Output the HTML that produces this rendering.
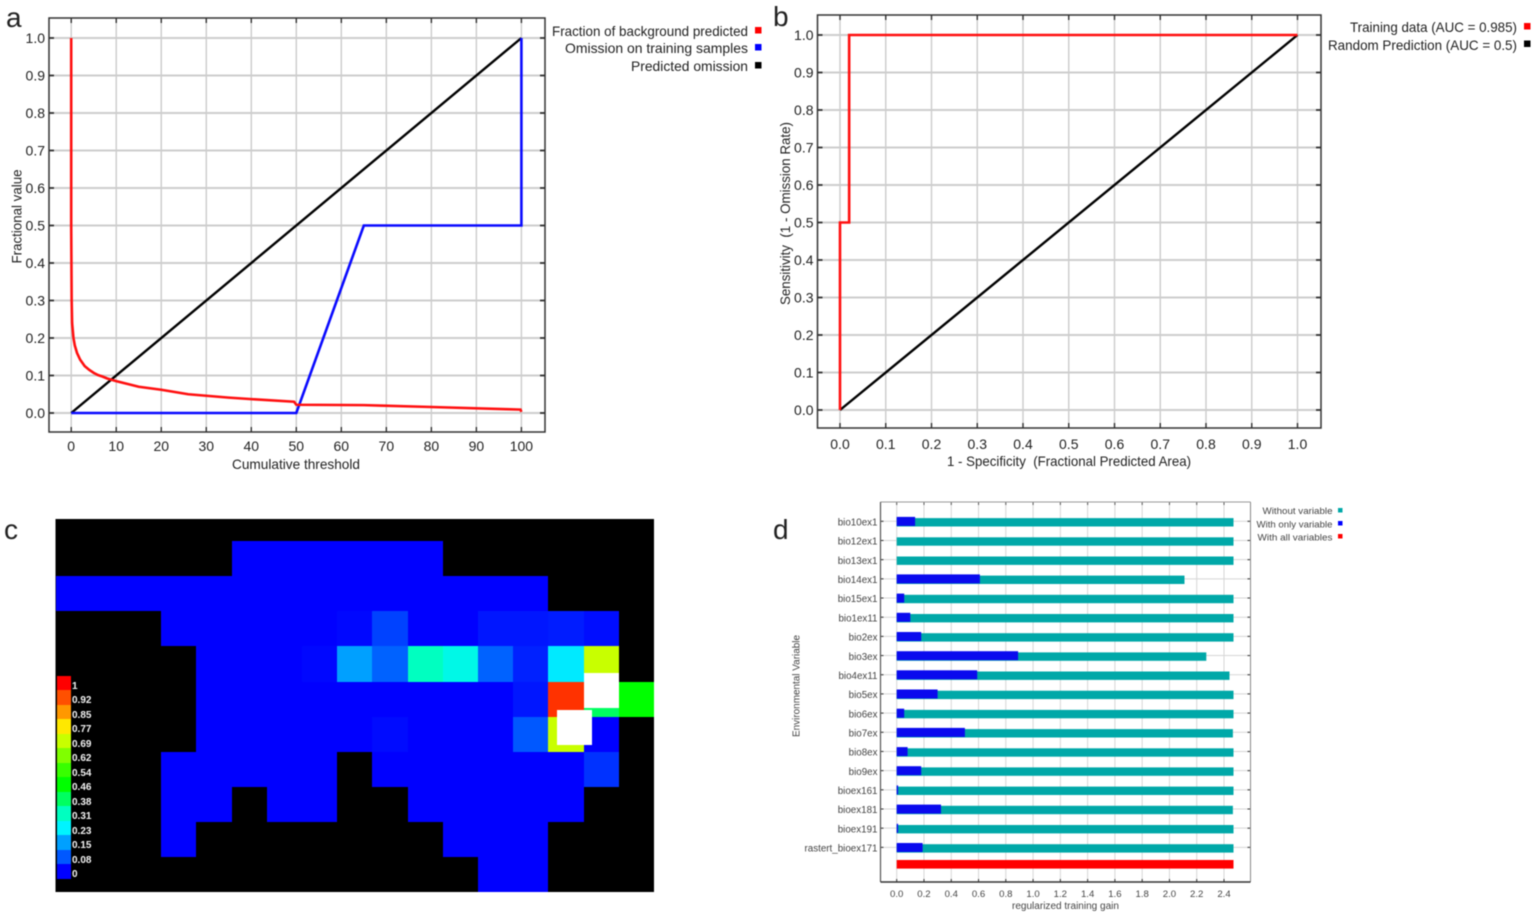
<!DOCTYPE html>
<html lang="en">
<head>
<meta charset="utf-8">
<title>Model evaluation panels</title>
<style>
html,body{margin:0;padding:0;background:#fff;width:1535px;height:916px;overflow:hidden}
svg{display:block;filter:blur(0.4px)}
text{font-family:"Liberation Sans",sans-serif;fill:#222;white-space:pre}
</style>
</head>
<body>
<svg id="figure" xmlns="http://www.w3.org/2000/svg" width="1535" height="916" viewBox="0 0 1535 916"></svg>
<script>
/* Panel a */
const thresholdTicks = ['0','10','20','30','40','50','60','70','80','90','100'];
const fractionTicks = ['0.0','0.1','0.2','0.3','0.4','0.5','0.6','0.7','0.8','0.9','1.0'];
const backgroundX = [0,0,0.1,0.2,0.5,0.8,1.3,2,3,4,5,6,7,8,10,12,15,20,26,30,35,40,49.5,50,65,80,99.8,100];
const backgroundY = [1,0.5,0.3,0.24,0.2,0.18,0.16,0.142,0.125,0.115,0.107,0.101,0.097,0.092,0.085,0.079,0.07,0.062,0.05,0.046,0.041,0.037,0.03,0.022,0.021,0.016,0.009,0.003];
const omissionX = [0,50,65,100,100];
const omissionY = [0,0,0.5,0.5,1];
const predictedX = [0,100];
const predictedY = [0,1];
/* Panel b */
const specificityTicks = ['0.0','0.1','0.2','0.3','0.4','0.5','0.6','0.7','0.8','0.9','1.0'];
const sensitivityTicks = ['0.0','0.1','0.2','0.3','0.4','0.5','0.6','0.7','0.8','0.9','1.0'];
const rocX = [0,0,0.02,0.02,1];
const rocY = [0,0.5,0.5,1,1];
const randomX = [0,1];
const randomY = [0,1];
/* Panel c: suitability per grid cell, null = outside the study area */
const n = null;
const suitabilityGrid = [
 [n,n,n,n,n,n,n,n,n,n,n,n,n,n,n,n,n],
 [n,n,n,n,n,0,0,0,0,0,0,n,n,n,n,n,n],
 [0,0,0,0,0,0,0,0,0,0,0,0,0,0,n,n,n],
 [n,n,n,0,0,0,0,0,0.006,0.06,0,0,0.02,0.02,0.025,0.012,n],
 [n,n,n,n,0,0,0,0.006,0.15,0.09,0.31,0.26,0.09,0.03,0.22,0.69,n],
 [n,n,n,n,0,0,0,0,0,0,0,0,0,0.02,0.95,0.38,0.46],
 [n,n,n,n,0,0,0,0,0,0.01,0,0,0,0.08,0.69,0,n],
 [n,n,n,0,0,0,0,0,n,0,0,0,0,0,0,0.045,n],
 [n,n,n,0,0,n,0,0,n,n,0,0,0,0,0,n,n],
 [n,n,n,0,n,n,n,n,n,n,n,0,0,0,n,n,n],
 [n,n,n,n,n,n,n,n,n,n,n,n,0,0,n,n,n]
];
const legendValues = [0,0.08,0.15,0.23,0.31,0.38,0.46,0.54,0.62,0.69,0.77,0.85,0.92,1];
const legendLabels = ['0','0.08','0.15','0.23','0.31','0.38','0.46','0.54','0.62','0.69','0.77','0.85','0.92','1'];
const legendColors = ['#0000ff','#0058ff','#00a0ff','#00f4ff','#00ffc0','#00ff60','#00ff00','#38ff00','#80ff00','#c8ff00','#ffe800','#ff9800','#ff5000','#ff0000'];
/* Panel d */
const variables = ['bio10ex1','bio12ex1','bio13ex1','bio14ex1','bio15ex1','bio1ex11','bio2ex','bio3ex','bio4ex11','bio5ex','bio6ex','bio7ex','bio8ex','bio9ex','bioex161','bioex181','bioex191','rastert_bioex171'];
const withoutVariable = [2.47,2.47,2.47,2.11,2.47,2.47,2.47,2.27,2.44,2.47,2.47,2.465,2.47,2.47,2.47,2.465,2.47,2.47];
const withOnlyVariable = [0.135,0,0,0.61,0.055,0.10,0.18,0.89,0.59,0.30,0.055,0.50,0.08,0.18,0.01,0.325,0.01,0.19];
const withAllVariables = 2.47;
const gainTicks = ['0.0','0.2','0.4','0.6','0.8','1.0','1.2','1.4','1.6','1.8','2.0','2.2','2.4'];

const svg = document.getElementById('figure');
const NS = 'http://www.w3.org/2000/svg';

function add(parent, tag, attrs, name) {
  const el = document.createElementNS(NS, tag);
  for (const k in attrs) el.setAttribute(k, attrs[k]);
  
  
  parent.appendChild(el);
  return el;
}
function label(parent, str, x, y, size, anchor, name, fit, extra) {
  const attrs = Object.assign({x: x, y: y, 'font-size': size, 'text-anchor': anchor || 'start'}, extra || {});
  if (fit) { attrs.textLength = fit; attrs.lengthAdjust = 'spacingAndGlyphs'; }
  const t = add(parent, 'text', attrs, name);
  t.textContent = str;
  return t;
}
function line(parent, x1, y1, x2, y2, color, w, name) {
  return add(parent, 'line', {x1: x1, y1: y1, x2: x2, y2: y2, stroke: color, 'stroke-width': w}, name);
}
function scale(d0, d1, r0, r1) {
  return v => r0 + (v - d0) * (r1 - r0) / (d1 - d0);
}
function series(parent, xs, ys, sx, sy, color, w, name) {
  const pts = xs.map((x, i) => sx(x).toFixed(2) + ',' + sy(ys[i]).toFixed(2)).join(' ');
  return add(parent, 'polyline', {points: pts, fill: 'none', stroke: color, 'stroke-width': w, 'stroke-linejoin': 'miter'}, name);
}
function swatch(parent, x, y, w, h, color, name) {
  return add(parent, 'rect', {x: x, y: y, width: w, height: h, fill: color}, name);
}

function linePanel(c) {
  const g = add(svg, 'g', {}, c.name);
  const sx = scale(c.xDomain[0], c.xDomain[1], c.x0, c.x1);
  const sy = scale(0, 1, c.y0, c.y1);
  c.xTicks.forEach(t => {
    const px = sx(parseFloat(t));
    line(g, px, c.top, px, c.bottom, '#cbcbcb', 1.4, 'x-gridline');
    line(g, px, c.top, px, c.top + 5, '#333', 1.4, 'x-tick-top');
    line(g, px, c.bottom - 5, px, c.bottom, '#333', 1.4, 'x-tick-bottom');
    label(g, t, px, c.xLabelY, 14, 'middle', 'x-tick-label');
  });
  c.yTicks.forEach(t => {
    const py = sy(parseFloat(t));
    line(g, c.left, py, c.right, py, '#cdcdcd', 2, 'y-gridline');
    line(g, c.left, py, c.left + 5, py, '#333', 1.8, 'y-tick-left');
    line(g, c.right - 5, py, c.right, py, '#333', 1.8, 'y-tick-right');
    label(g, t, c.left - 4, py + 5, 14, 'end', 'y-tick-label');
  });
  add(g, 'rect', {x: c.left, y: c.top, width: c.right - c.left, height: c.bottom - c.top, fill: 'none', stroke: '#333', 'stroke-width': 1.5}, 'plot-frame');
  return {g: g, sx: sx, sy: sy};
}

/* Panel letters */
label(svg, 'a', 6, 27, 28, 'start', 'panel-label-a');
label(svg, 'b', 773, 26, 28, 'start', 'panel-label-b');
label(svg, 'c', 4, 539, 28, 'start', 'panel-label-c');
label(svg, 'd', 773, 539, 28, 'start', 'panel-label-d');

/* Panel a */
const a = linePanel({name: 'omission-chart', left: 49, right: 545, top: 18, bottom: 432, x0: 71.2, x1: 521.4, y0: 413, y1: 38, xDomain: [0, 100], xTicks: thresholdTicks, yTicks: fractionTicks, xLabelY: 451});
series(a.g, predictedX, predictedY, a.sx, a.sy, '#000', 2.4, 'predicted-omission-line');
series(a.g, omissionX, omissionY, a.sx, a.sy, '#0a0aff', 2.6, 'training-omission-line');
series(a.g, backgroundX, backgroundY, a.sx, a.sy, '#ff1010', 2.6, 'background-fraction-line');
label(a.g, 'Cumulative threshold', 296, 469, 14, 'middle', 'x-axis-title', 128);
label(a.g, 'Fractional value', 21.5, 216.5, 14, 'middle', 'y-axis-title', 94, {transform: 'rotate(-90 21.5 216.5)'});
label(a.g, 'Fraction of background predicted', 748, 36, 14, 'end', 'legend-background-label', 196);
swatch(a.g, 755, 27, 6.5, 6.5, '#ff0000', 'legend-background-swatch');
label(a.g, 'Omission on training samples', 748, 53, 14, 'end', 'legend-omission-label', 183);
swatch(a.g, 755, 44, 6.5, 6.5, '#0000ff', 'legend-omission-swatch');
label(a.g, 'Predicted omission', 748, 71, 14, 'end', 'legend-predicted-label', 117);
swatch(a.g, 755, 62, 6.5, 6.5, '#000000', 'legend-predicted-swatch');

/* Panel b */
const b = linePanel({name: 'roc-chart', left: 817.5, right: 1321, top: 15, bottom: 428, x0: 840, x1: 1297.5, y0: 410, y1: 35, xDomain: [0, 1], xTicks: specificityTicks, yTicks: sensitivityTicks, xLabelY: 449});
series(b.g, randomX, randomY, b.sx, b.sy, '#000', 2.4, 'random-prediction-line');
series(b.g, rocX, rocY, b.sx, b.sy, '#ff1010', 2.6, 'training-roc-line');
label(b.g, '1 - Specificity  (Fractional Predicted Area)', 1069, 466, 14, 'middle', 'x-axis-title', 244);
label(b.g, 'Sensitivity  (1 - Omission Rate)', 790, 213.5, 14, 'middle', 'y-axis-title', 183, {transform: 'rotate(-90 790 213.5)'});
label(b.g, 'Training data (AUC = 0.985)', 1517, 32, 14, 'end', 'legend-training-label', 167);
swatch(b.g, 1524, 23, 6.5, 6.5, '#ff0000', 'legend-training-swatch');
label(b.g, 'Random Prediction (AUC = 0.5)', 1517, 50, 14, 'end', 'legend-random-label', 189);
swatch(b.g, 1524, 40.5, 6.5, 6.5, '#000000', 'legend-random-swatch');

/* Panel c */
function heatColor(v) {
  let i = 0;
  while (i < legendValues.length - 2 && v > legendValues[i + 1]) i++;
  const t = Math.min(1, (v - legendValues[i]) / (legendValues[i + 1] - legendValues[i]));
  const rgb = s => [1, 3, 5].map(p => parseInt(s.substr(p, 2), 16));
  const A = rgb(legendColors[i]), B = rgb(legendColors[i + 1]);
  return 'rgb(' + A.map((q, k) => Math.round(q + (B[k] - q) * t)).join(',') + ')';
}
const heatG = add(svg, 'g', {'shape-rendering': 'crispEdges'}, 'suitability-map');
const heatLeft = 55.5, heatRight = 654, heatTop = 519, heatBottom = 892;
add(heatG, 'rect', {x: heatLeft, y: heatTop, width: heatRight - heatLeft, height: heatBottom - heatTop, fill: '#000'}, 'map-background');
const colX = c => Math.round(scale(0, suitabilityGrid[0].length, heatLeft, heatRight)(c));
const rowY = r => Math.round(Math.min(heatBottom, Math.max(heatTop, 505.85 + 35.15 * r)));
suitabilityGrid.forEach((row, r) => {
  row.forEach((v, c) => {
    if (v === null) return;
    add(heatG, 'rect', {x: colX(c), y: rowY(r), width: colX(c + 1) - colX(c), height: rowY(r + 1) - rowY(r), fill: heatColor(v)}, 'map-cell');
  });
});
add(heatG, 'rect', {x: 584, y: 673, width: 35, height: 35, fill: '#fff'}, 'occurrence-marker');
add(heatG, 'rect', {x: 557, y: 710, width: 35, height: 35, fill: '#fff'}, 'occurrence-marker');
legendLabels.forEach((t, i) => {
  const top = Math.round(675.7 + (legendLabels.length - 1 - i) * 14.52);
  const nextTop = Math.round(675.7 + (legendLabels.length - i) * 14.52);
  add(heatG, 'rect', {x: 57, y: top, width: 14, height: nextTop - top, fill: legendColors[i]}, 'map-legend-swatch');
  label(svg, t, 72, top + 12.8, 10, 'start', 'map-legend-label', null, {'font-weight': 'bold', style: 'fill:#f2f2f2'});
});

/* Panel d */
const dG = add(svg, 'g', {}, 'variable-importance-chart');
const dLeft = 880.5, dRight = 1250.5, dTop = 502, dBottom = 882;
const gainX = scale(0, 2.4, 896.7, 1224);
const rowCenter = i => 522.3 + i * 19.18;
gainTicks.forEach(t => {
  const px = gainX(parseFloat(t));
  line(dG, px, dTop, px, dBottom, '#d6d6d6', 1, 'x-gridline');
  line(dG, px, dTop, px, dTop + 3, '#555', 1, 'x-tick-top');
  line(dG, px, dBottom - 3, px, dBottom, '#333', 1, 'x-tick-bottom');
  label(dG, t, px, 897, 9.6, 'middle', 'x-tick-label', null, {style: 'fill:#444'});
});
variables.forEach((v, i) => {
  const cy = rowCenter(i) - 1;
  line(dG, dLeft, cy, dRight, cy, '#d6d6d6', 1, 'y-gridline');
  line(dG, dLeft, cy, dLeft + 3, cy, '#333', 1, 'y-tick-left');
  line(dG, dRight - 3, cy, dRight, cy, '#333', 1, 'y-tick-right');
  label(dG, v, 877.5, rowCenter(i) + 3.2, 9.8, 'end', 'y-tick-label', null, {style: 'fill:#444'});
});
variables.forEach((v, i) => {
  const cy = rowCenter(i);
  add(dG, 'rect', {x: gainX(0), y: (cy - 4.2).toFixed(1), width: (gainX(withoutVariable[i]) - gainX(0)).toFixed(1), height: 8.4, fill: '#00a8a8'}, 'bar-without-variable');
  if (withOnlyVariable[i] > 0) {
    add(dG, 'rect', {x: gainX(0), y: (cy - 5.4).toFixed(1), width: (gainX(withOnlyVariable[i]) - gainX(0)).toFixed(1), height: 9, fill: '#0a0aee'}, 'bar-with-only-variable');
  }
});
add(dG, 'rect', {x: gainX(0), y: 860, width: (gainX(withAllVariables) - gainX(0)).toFixed(1), height: 8.6, fill: '#ff0000'}, 'bar-with-all-variables');
line(dG, dLeft, dTop, dRight, dTop, '#9a9a9a', 1, 'frame-top');
line(dG, dRight, dTop, dRight, dBottom, '#8a8a8a', 1, 'frame-right');
line(dG, dLeft, dTop, dLeft, dBottom, '#555', 1.2, 'frame-left');
line(dG, dLeft, dBottom, dRight, dBottom, '#333', 1.4, 'frame-bottom');
label(dG, 'regularized training gain', 1065.5, 909, 9.8, 'middle', 'x-axis-title', 107, {style: 'fill:#444'});
label(dG, 'Environmental Variable', 799.5, 686, 9.8, 'middle', 'y-axis-title', 102, {transform: 'rotate(-90 799.5 686)', style: 'fill:#444'});
label(dG, 'Without variable', 1332.5, 514, 9, 'end', 'legend-without-label', 70, {style: 'fill:#444'});
swatch(dG, 1338, 508, 4.5, 4.5, '#00a8a8', 'legend-without-swatch');
label(dG, 'With only variable', 1332.5, 527.5, 9, 'end', 'legend-only-label', 76, {style: 'fill:#444'});
swatch(dG, 1338, 521, 4.5, 4.5, '#0000ff', 'legend-only-swatch');
label(dG, 'With all variables', 1332.5, 540.5, 9, 'end', 'legend-all-label', 75, {style: 'fill:#444'});
swatch(dG, 1338, 534, 4.5, 4.5, '#ff0000', 'legend-all-swatch');
</script>
</body>
</html>
